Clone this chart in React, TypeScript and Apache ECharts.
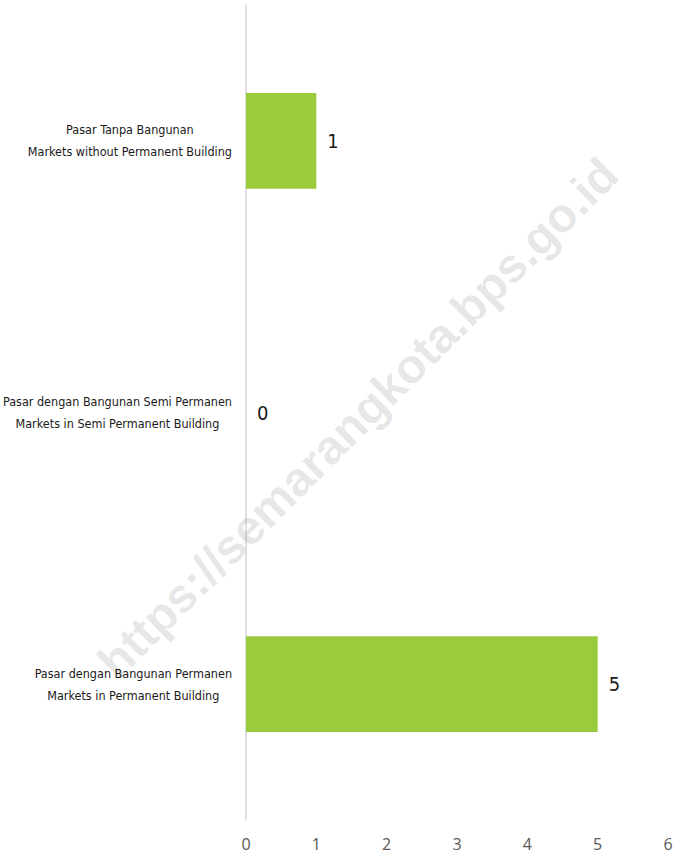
import React, { useEffect, useRef } from "react";
import * as echarts from "echarts";

const categories: string[][] = [
  ["Pasar dengan Bangunan Permanen", "Markets in Permanent Building"],
  ["Pasar dengan Bangunan Semi Permanen", "Markets in Semi Permanent Building"],
  ["Pasar Tanpa Bangunan", "Markets without Permanent Building"],
];
const values: number[] = [5, 0, 1];
const xMin = 0;
const xMax = 6;
const xInterval = 1;
const watermark = "https://semarangkota.bps.go.id";

const narrowFont = "'DejaVu Sans Condensed', 'Liberation Sans Narrow', 'Liberation Sans', sans-serif";

export default function App() {
  const ref = useRef<HTMLDivElement>(null);
  useEffect(() => {
    document.body.style.margin = "0";
    if (!ref.current) return;
    const chart = echarts.init(ref.current, undefined, { renderer: "svg" });
    chart.setOption({
      animation: false,
      backgroundColor: "#ffffff",
      grid: {
        left: 246,
        right: 5,
        top: 5,
        bottom: 35,
        containLabel: false,
        outerBoundsMode: "none",
      },
      xAxis: {
        type: "value",
        min: xMin,
        max: xMax,
        interval: xInterval,
        axisLine: { show: false },
        axisTick: { show: false },
        splitLine: { show: false },
        axisLabel: {
          margin: 16,
          color: "#595959",
          fontSize: 16,
          fontFamily: "'Open Sans', 'Liberation Sans', sans-serif",
        },
      },
      yAxis: {
        type: "category",
        data: categories.map((c) => c.join("\n")),
        axisLine: { show: true, lineStyle: { color: "#d4d4d4", width: 1.5 } },
        axisTick: { show: false },
        splitLine: { show: false },
        axisLabel: {
          margin: 14,
          formatter: (v: string) =>
            v
              .split("\n")
              .map((l) => `{c|${l}}`)
              .join("\n"),
          rich: {
            c: {
              align: "center",
              fontSize: 12.5,
              lineHeight: 22,
              color: "#1a1a1a",
              fontFamily: narrowFont,
            },
          },
        },
      },
      series: [
        {
          type: "bar",
          data: values,
          barWidth: "35.3%",
          itemStyle: { color: "#9bcb3c" },
          label: {
            show: true,
            position: "right",
            distance: 11,
            color: "#1a1a1a",
            fontSize: 20,
            fontFamily: narrowFont,
          },
        },
      ],
      graphic: [
        {
          type: "text",
          x: 358,
          y: 418,
          rotation: Math.PI / 4,
          silent: true,
          z: 100,
          style: {
            text: watermark,
            fill: "rgba(0,0,0,0.1)",
            font: "bold 48px 'Liberation Sans', Arial, sans-serif",
            textAlign: "center",
            textVerticalAlign: "middle",
          },
        },
      ],
    });
    return () => chart.dispose();
  }, []);
  return <div ref={ref} style={{ width: 673, height: 855 }} />;
}
